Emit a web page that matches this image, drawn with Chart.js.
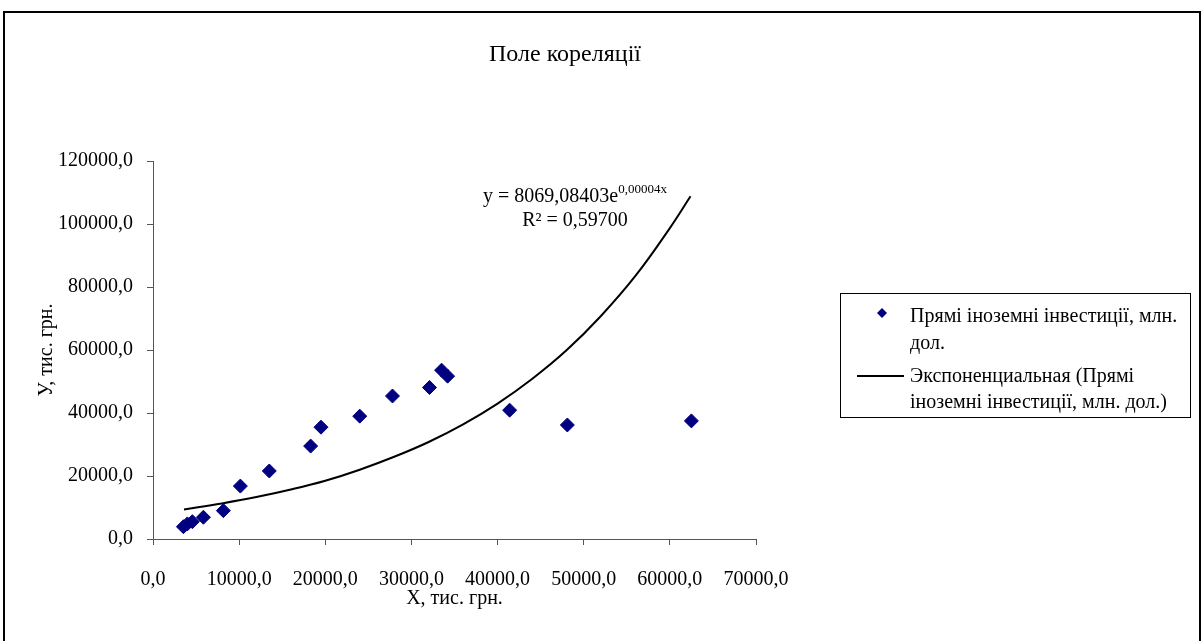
<!DOCTYPE html>
<html>
<head>
<meta charset="utf-8">
<script src="https://cdn.jsdelivr.net/npm/chart.js@4/dist/chart.umd.min.js"></script>
<style>
  html, body { margin: 0; padding: 0; background: #fff; overflow: hidden; }
  #wrap { position: relative; width: 1204px; height: 641px; }
  #frame { position: absolute; left: 3px; top: 11px; width: 1198px; height: 700px; border: 2px solid #000; box-sizing: border-box; }
  canvas { position: absolute; left: 0; top: 0; }
</style>
</head>
<body>
<div id="wrap">
  <div id="frame"></div>
  <canvas id="chart" width="1204" height="641"></canvas>
</div>
<script>
// Прямі іноземні інвестиції (X, Y)
const xValues = [3530, 3990, 4570, 5850, 8170, 10140, 13500, 18300, 19500, 24000, 27800, 32100, 33500, 34200, 41400, 48100, 62500];
const yValues = [3900, 4800, 5500, 6900, 9000, 16800, 21600, 29500, 35500, 39000, 45400, 48100, 53600, 51700, 40900, 36200, 37500];

// лінія тренду (експоненційна), точки
const trendX = [3600, 8000, 12000, 16000, 20000, 24000, 28000, 32000, 36000, 40000, 44000, 48000, 52000, 56000, 60000, 62400];
const trendY = [9400, 11300, 13300, 15700, 18500, 22000, 26100, 30800, 36400, 43000, 50800, 59900, 70800, 83500, 98700, 108800];

const xTicks = [0, 10000, 20000, 30000, 40000, 50000, 60000, 70000];
const yTicks = [0, 20000, 40000, 60000, 80000, 100000, 120000];

const chartTitle = 'Поле кореляції';
const seriesName = 'Прямі іноземні інвестиції, млн. дол.';
const trendName = 'Экспоненциальная (Прямі іноземні інвестиції, млн. дол.)';
const equation = 'y = 8069,08403e';
const equationExp = '0,00004x';
const rSquared = 'R² = 0,59700';

const FONT = "'Liberation Serif', 'Times New Roman', serif";
const fmt = v => v.toFixed(1).replace('.', ',');

const points = xValues.map((x, i) => ({x: x, y: yValues[i]}));
const trend = trendX.map((x, i) => ({x: x, y: trendY[i]}));

// заголовок, рівняння та легенда
const extras = {
    id: 'extras',
    afterDraw(chart) {
        const ctx = chart.ctx;
        ctx.save();
        ctx.fillStyle = '#000';
        ctx.textBaseline = 'middle';

        // заголовок
        ctx.textAlign = 'center';
        ctx.font = '24px ' + FONT;
        ctx.fillText(chartTitle, 565, 55);

        // рівняння тренду
        ctx.font = '20px ' + FONT;
        const w1 = ctx.measureText(equation).width;
        ctx.font = '13px ' + FONT;
        const w2 = ctx.measureText(equationExp).width;
        const startX = 575 - (w1 + w2) / 2;
        ctx.textAlign = 'left';
        ctx.font = '20px ' + FONT;
        ctx.fillText(equation, startX, 197);
        ctx.font = '13px ' + FONT;
        ctx.fillText(equationExp, startX + w1, 190);
        ctx.font = '20px ' + FONT;
        ctx.textAlign = 'center';
        ctx.fillText(rSquared, 575, 221);

        // легенда
        ctx.strokeStyle = '#000';
        ctx.lineWidth = 1;
        ctx.strokeRect(840.5, 293.5, 350, 124);

        ctx.fillStyle = '#000080';
        ctx.beginPath();
        ctx.moveTo(882, 308);
        ctx.lineTo(887, 313);
        ctx.lineTo(882, 318);
        ctx.lineTo(877, 313);
        ctx.closePath();
        ctx.fill();

        ctx.strokeStyle = '#000';
        ctx.lineWidth = 2;
        ctx.beginPath();
        ctx.moveTo(857, 376);
        ctx.lineTo(904, 376);
        ctx.stroke();

        ctx.fillStyle = '#000';
        ctx.textAlign = 'left';
        ctx.font = '20px ' + FONT;
        ctx.fillText('Прямі іноземні інвестиції, млн.', 910, 317);
        ctx.fillText('дол.', 910, 344);
        ctx.fillText('Экспоненциальная (Прямі', 910, 377);
        ctx.fillText('іноземні інвестиції, млн. дол.)', 910, 403);
        ctx.restore();
    }
};

const ctx = document.getElementById('chart').getContext('2d');
new Chart(ctx, {
    type: 'scatter',
    data: {
        datasets: [{
            label: seriesName,
            data: points,
            pointStyle: 'rectRot',
            pointRadius: 7,
            pointHoverRadius: 7,
            backgroundColor: '#000080',
            borderColor: '#000080',
            borderWidth: 1,
            order: 1
        }, {
            label: trendName,
            data: trend,
            showLine: true,
            pointRadius: 0,
            borderColor: '#000',
            borderWidth: 2,
            tension: 0.4,
            order: 2
        }]
    },
    options: {
        responsive: false,
        animation: false,
        layout: { padding: { left: 0, right: 448, top: 161, bottom: 0 } },
        plugins: {
            legend: { display: false },
            tooltip: { enabled: false },
            title: { display: false }
        },
        scales: {
            x: {
                type: 'linear',
                min: 0,
                max: 70000,
                afterBuildTicks: s => { s.ticks = xTicks.map(v => ({value: v})); },
                afterFit: s => { s.height = 102; },
                grid: { drawOnChartArea: false, drawTicks: true, tickLength: 6, color: '#555' },
                border: { display: true, color: '#555', width: 1 },
                ticks: {
                    color: '#000',
                    padding: 23,
                    maxRotation: 0,
                    font: { family: FONT, size: 20 },
                    callback: v => fmt(v)
                },
                title: {
                    display: true,
                    text: 'X, тис. грн.',
                    color: '#000',
                    font: { family: FONT, size: 20 },
                    padding: { top: 0, bottom: 30 }
                }
            },
            y: {
                type: 'linear',
                min: 0,
                max: 120000,
                afterBuildTicks: s => { s.ticks = yTicks.map(v => ({value: v})); },
                afterFit: s => { s.width = 153; },
                grid: { drawOnChartArea: false, drawTicks: true, tickLength: 6, color: '#555' },
                border: { display: true, color: '#555', width: 1 },
                ticks: {
                    color: '#000',
                    padding: 14,
                    font: { family: FONT, size: 20 },
                    callback: v => fmt(v)
                },
                title: {
                    display: true,
                    text: 'У, тис. грн.',
                    color: '#000',
                    font: { family: FONT, size: 20 },
                    padding: { top: 35, bottom: 0 }
                }
            }
        }
    },
    plugins: [extras]
});
</script>
</body>
</html>
